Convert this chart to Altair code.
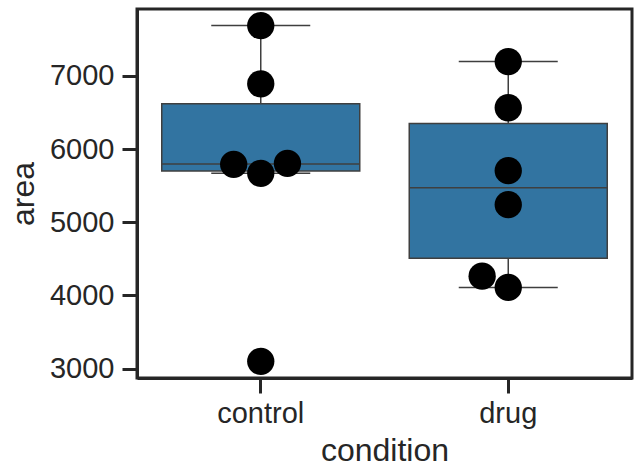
import altair as alt
import numpy as np
import pandas as pd

# measured cell areas per condition
conditions = ["control", "drug"]
control_area = [7686, 6891, 5791, 5668, 5804, 3101]
drug_area = [7195, 6564, 5705, 5241, 4264, 4110]
y_ticks = [3000, 4000, 5000, 6000, 7000]

# layout constants
W, H = 495, 369
Y_MIN, Y_MAX = 2873, 7913
BAND = W / len(conditions)
DOT = 27.3  # marker diameter in px

BOX_FILL = "#3274a1"
LINE = "#3f3f3f"
INK = "#262626"
FONT = "Liberation Sans"


def swarm(values):
    """Simple beeswarm: horizontal pixel offsets so dots do not overlap."""
    px = H / (Y_MAX - Y_MIN)
    order = np.argsort(values)
    placed = []  # (y_px, x_px)
    offsets = [0.0] * len(values)
    for i in order:
        y = values[i] * px
        near = [(py, pxx) for py, pxx in placed if abs(py - y) < DOT]
        cands = [0.0]
        for py, pxx in near:
            dx = np.sqrt(max(DOT ** 2 - (py - y) ** 2, 0)) * 1.05
            cands += [pxx - dx, pxx + dx]
        cands = sorted(cands, key=lambda c: (round(abs(c), 6), c))
        for c in cands:
            if all((c - pxx) ** 2 + (y - py) ** 2 >= (DOT * 0.999) ** 2 for py, pxx in near):
                offsets[i] = c
                break
        placed.append((y, offsets[i]))
    return offsets


rows = []
for cond, vals in zip(conditions, [control_area, drug_area]):
    for v, dx in zip(vals, swarm(vals)):
        rows.append({"condition": cond, "area": v, "dx": dx})
points = pd.DataFrame(rows)

# box statistics (linear quantiles, whiskers at 1.5 IQR)
stats = []
for cond, vals in zip(conditions, [control_area, drug_area]):
    a = np.array(vals, dtype=float)
    q1, med, q3 = np.percentile(a, [25, 50, 75])
    iqr = q3 - q1
    lo = a[a >= q1 - 1.5 * iqr].min()
    hi = a[a <= q3 + 1.5 * iqr].max()
    stats.append({"condition": cond, "q1": q1, "median": med, "q3": q3, "lo": lo, "hi": hi})
stats = pd.DataFrame(stats)

x_enc = alt.X(
    "condition:N",
    sort=conditions,
    title="condition",
    scale=alt.Scale(paddingInner=0, paddingOuter=0),
    axis=alt.Axis(labelAngle=0),
)
y_scale = alt.Scale(domain=[Y_MIN, Y_MAX], nice=False, zero=False)
y_axis = alt.Axis(values=y_ticks, format="d")

base = alt.Chart(stats)

whisker = base.mark_rule(color=LINE, strokeWidth=1.5).encode(
    x=x_enc,
    y=alt.Y("lo:Q", scale=y_scale, axis=y_axis, title="area"),
    y2="hi:Q",
)
box = base.mark_bar(size=0.8 * BAND, fill=BOX_FILL, stroke=LINE, strokeWidth=1.5).encode(
    x=x_enc,
    y=alt.Y("q1:Q", scale=y_scale),
    y2="q3:Q",
)
median = base.mark_tick(size=0.8 * BAND, thickness=1.5, color=LINE, opacity=1).encode(
    x=x_enc, y=alt.Y("median:Q", scale=y_scale)
)
cap_lo = base.mark_tick(size=0.4 * BAND, thickness=1.5, color=LINE, opacity=1).encode(
    x=x_enc, y=alt.Y("lo:Q", scale=y_scale)
)
cap_hi = base.mark_tick(size=0.4 * BAND, thickness=1.5, color=LINE, opacity=1).encode(
    x=x_enc, y=alt.Y("hi:Q", scale=y_scale)
)
dots = alt.Chart(points).mark_circle(size=DOT ** 2, color="black", opacity=1).encode(
    x=x_enc,
    xOffset=alt.XOffset(
        "dx:Q", scale=alt.Scale(domain=[-BAND / 2, BAND / 2], range=[0, BAND])
    ),
    y=alt.Y("area:Q", scale=y_scale),
)

chart = (
    alt.layer(whisker, cap_lo, cap_hi, box, median, dots)
    .properties(
        width=W,
        height=H,
        autosize=alt.AutoSizeParams(type="none"),
        padding={"left": 137, "top": 9, "right": 10, "bottom": 98},
    )
    .configure(background="white")
    .configure_view(stroke=INK, strokeWidth=3)
    .configure_axis(
        grid=False,
        labelFont=FONT,
        titleFont=FONT,
        labelFontSize=29,
        titleFontSize=32,
        titleFontWeight="normal",
        labelColor=INK,
        titleColor=INK,
        tickColor=INK,
        tickSize=15,
        tickWidth=3,
        domainColor=INK,
        domainWidth=3,
    )
    .configure_axisX(labelPadding=6, titlePadding=7)
    .configure_axisY(labelPadding=8, titlePadding=9)
)

chart.save("out.html", embed_options={"renderer": "svg", "actions": False})
